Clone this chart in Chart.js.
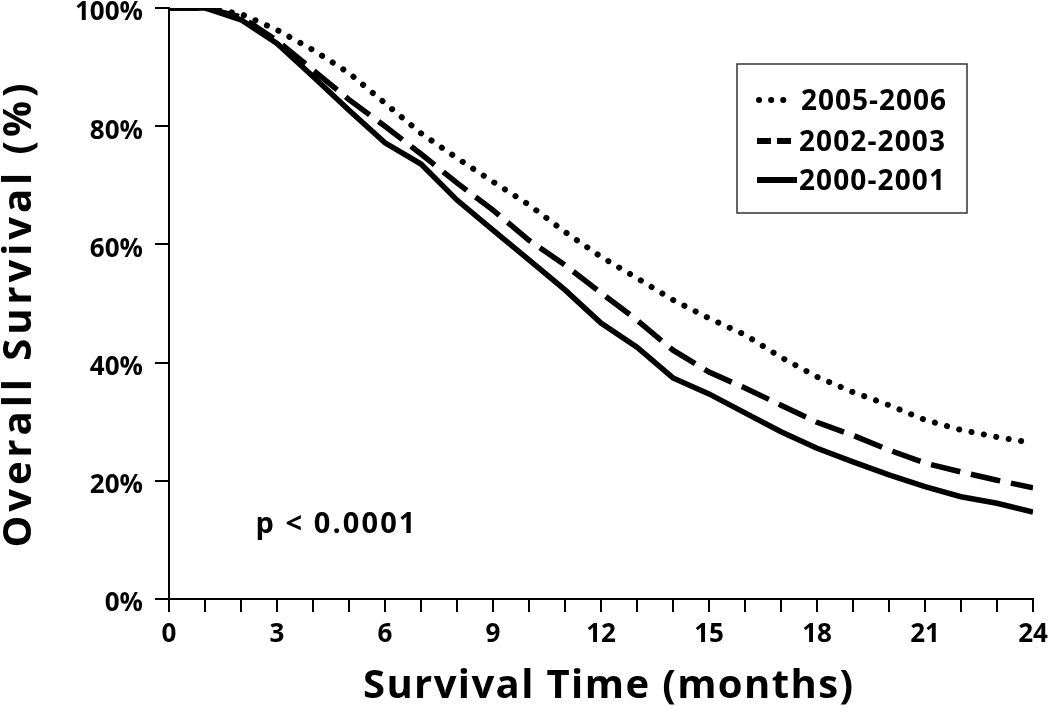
<!DOCTYPE html>
<html>
<head>
<meta charset="utf-8">
<script src="https://cdn.jsdelivr.net/npm/chart.js@4/dist/chart.umd.min.js"></script>
<style>
  html, body { margin: 0; padding: 0; background: #fff; }
  #wrap { width: 1050px; height: 718px; }
</style>
</head>
<body>
<div id="wrap"><canvas id="survChart" width="1050" height="718"></canvas></div>
<script>
// --- data (survival %, by month) ---
const months = [0,1,2,3,4,5,6,7,8,9,10,11,12,13,14,15,16,17,18,19,20,21,22,23,24];
const surv2005 = [100,100,99,96.3,92.9,89,83.9,78.8,74.6,70.6,66.7,62.1,57.9,54.3,50.6,47.5,44.7,40.9,37.6,35,32.8,30.3,28.6,27.4,26.4];
const surv2002 = [100,100,98.5,94.5,89.5,84.5,80,75.3,70.4,65.8,60.7,56.5,51.8,47.2,42.1,38.4,35.7,32.8,29.9,27.7,25.2,23,21.5,20.1,18.8];
const surv2000 = [100,100,98,94,88.4,82.7,77.2,73.6,67.5,62.4,57.4,52.3,46.7,42.6,37.4,34.7,31.5,28.3,25.5,23.2,21,19,17.3,16.2,14.7];
const seriesNames = ["2005-2006", "2002-2003", "2000-2001"];
const yTicks = [0, 20, 40, 60, 80, 100];
const xTitle = "Survival Time (months)";
const yTitle = "Overall Survival (%)";
const pValueText = "p < 0.0001";

const FONT = "'Open Sans', 'DejaVu Sans', sans-serif";

function toPoints(vals) {
  return months.map((m, i) => ({ x: m, y: vals[i] }));
}

// draw text left-aligned at x, stretched with letter spacing to a given width
function spacedText(ctx, text, x, y, font, width) {
  ctx.font = font;
  ctx.letterSpacing = "0px";
  const natural = ctx.measureText(text).width;
  const sp = width ? Math.max(0, (width - natural) / (text.length - 1)) : 0;
  ctx.letterSpacing = sp + "px";
  ctx.fillText(text, x, y);
  ctx.letterSpacing = "0px";
}

const extras = {
  id: "extras",
  afterDraw(chart) {
    const ctx = chart.ctx;
    const area = chart.chartArea;
    const xs = chart.scales.x, ys = chart.scales.y;
    ctx.save();
    ctx.fillStyle = "#000";
    ctx.textAlign = "left";
    ctx.textBaseline = "alphabetic";

    // axis titles
    const xMid = (area.left + area.right) / 2 + 7;
    spacedText(ctx, xTitle, xMid - 245, 698, "bold 40px " + FONT, 490);

    ctx.save();
    ctx.translate(31, (area.top + area.bottom) / 2 + 12);
    ctx.rotate(-Math.PI / 2);
    spacedText(ctx, yTitle, -232, 0, "bold 40px " + FONT, 464);
    ctx.restore();

    // legend box
    const bx = area.right - 296, by = area.top + 56, bw = 230, bh = 149;
    ctx.strokeStyle = "#333";
    ctx.lineWidth = 1.5;
    ctx.strokeRect(bx, by, bw, bh);

    const rows = [by + 36, by + 77, by + 116];
    ctx.strokeStyle = "#000";

    ctx.lineWidth = 6;
    ctx.lineCap = "round";
    ctx.setLineDash([0.1, 12]);
    ctx.beginPath();
    ctx.moveTo(bx + 22, rows[0]);
    ctx.lineTo(bx + 55, rows[0]);
    ctx.stroke();

    ctx.lineCap = "butt";
    ctx.setLineDash([14, 6]);
    ctx.beginPath();
    ctx.moveTo(bx + 20, rows[1]);
    ctx.lineTo(bx + 60, rows[1]);
    ctx.stroke();

    ctx.setLineDash([]);
    ctx.beginPath();
    ctx.moveTo(bx + 20, rows[2]);
    ctx.lineTo(bx + 60, rows[2]);
    ctx.stroke();

    const lf = "bold 28px " + FONT;
    spacedText(ctx, seriesNames[0], bx + 64, rows[0] + 10, lf, 145);
    spacedText(ctx, seriesNames[1], bx + 62, rows[1] + 10, lf, 146);
    spacedText(ctx, seriesNames[2], bx + 62, rows[2] + 10, lf, 146);

    // p value annotation
    spacedText(ctx, pValueText, xs.getPixelForValue(2.4), ys.getPixelForValue(11.2), "bold 29px " + FONT, 160);
    ctx.restore();
  }
};

const ctx = document.getElementById("survChart").getContext("2d");
new Chart(ctx, {
  type: "line",
  data: {
    datasets: [
      {
        label: seriesNames[0],
        data: toPoints(surv2005),
        borderColor: "#000",
        borderWidth: 6,
        borderDash: [0.1, 12.5],
        borderCapStyle: "round",
        pointRadius: 0,
        tension: 0
      },
      {
        label: seriesNames[1],
        data: toPoints(surv2002),
        borderColor: "#000",
        borderWidth: 5.5,
        borderDash: [30, 11],
        borderCapStyle: "butt",
        pointRadius: 0,
        tension: 0
      },
      {
        label: seriesNames[2],
        data: toPoints(surv2000),
        borderColor: "#000",
        borderWidth: 5.5,
        pointRadius: 0,
        tension: 0
      }
    ]
  },
  options: {
    responsive: false,
    animation: false,
    layout: { padding: { top: 8, right: 17, left: 0, bottom: 0 } },
    plugins: {
      legend: { display: false },
      tooltip: { enabled: false }
    },
    scales: {
      x: {
        type: "linear",
        min: 0,
        max: 24,
        border: { color: "#000", width: 2 },
        grid: { drawOnChartArea: false, tickLength: 13, color: "#000", lineWidth: 2 },
        ticks: {
          stepSize: 1,
          autoSkip: false,
          maxRotation: 0,
          padding: 7,
          color: "#000",
          font: { family: FONT, size: 26, weight: "bold" },
          callback: v => (v % 3 === 0 ? String(v) : "")
        },
        afterFit(scale) {
          scale.height = 119;
          scale.paddingRight = 0;
          scale.paddingLeft = 0;
        }
      },
      y: {
        min: 0,
        max: 100,
        border: { color: "#000", width: 2 },
        grid: { drawOnChartArea: false, tickLength: 14, color: "#000", lineWidth: 2 },
        afterBuildTicks(scale) {
          scale.ticks = yTicks.map(v => ({ value: v }));
        },
        ticks: {
          padding: 12,
          labelOffset: 5,
          color: "#000",
          font: { family: FONT, size: 26, weight: "bold" },
          callback: v => v + "%"
        },
        afterFit(scale) {
          scale.width = 169;
          scale.paddingTop = 0;
          scale.paddingBottom = 0;
        }
      }
    }
  },
  plugins: [extras]
});
</script>
</body>
</html>
